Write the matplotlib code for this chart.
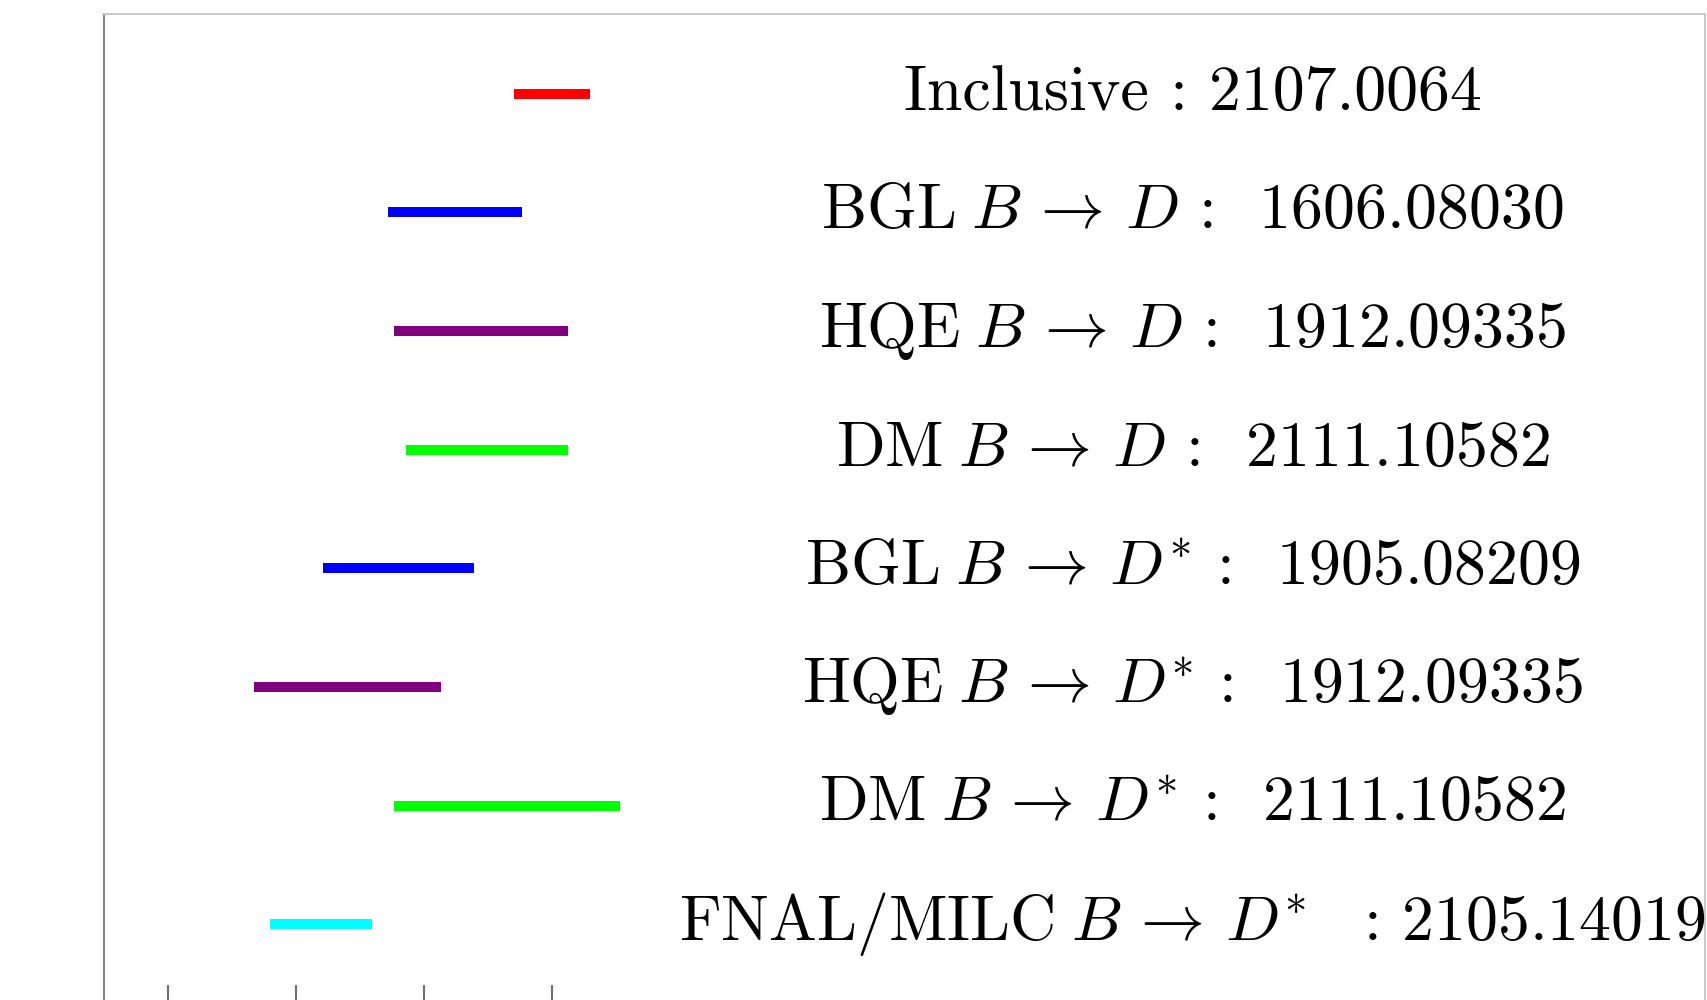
#!/usr/bin/env python
# coding: utf-8
"""
|Vcb| determinations, one horizontal bar per extraction with its arXiv reference.
"""

import matplotlib
matplotlib.use('Agg')
import matplotlib.pyplot as plt


# pylint: disable=invalid-name

labels = [
    r'Inclusive : 2107.0064',
    r'$\mathrm{BGL}\;B\,\rightarrow\,D\,:\;\;1606.08030$',
    r'$\mathrm{HQE}\;B\,\rightarrow\,D\,:\;\;1912.09335$',
    r'$\mathrm{DM}\;B\,\rightarrow\,D\,:\;\;2111.10582$',
    r'$\mathrm{BGL}\;B\,\rightarrow\,D^{*}\,:\;\;1905.08209$',
    r'$\mathrm{HQE}\;B\,\rightarrow\,D^{*}\,:\;\;1912.09335$',
    r'$\mathrm{DM}\;B\,\rightarrow\,D^{*}\,:\;\;2111.10582$',
    r'$\mathrm{FNAL/MILC}\;B\,\rightarrow\,D^{*}\;\;\,:\,2105.14019$',
]
# |Vcb| x 10^3 intervals (lower, upper)
vcb_low = [41.48, 39.52, 39.61, 39.80, 38.51, 37.42, 39.61, 37.67]
vcb_high = [42.51, 41.45, 42.17, 42.18, 40.70, 40.19, 42.98, 39.12]
colors = ['red', 'blue', 'purple', 'lime', 'blue', 'purple', 'lime', 'cyan']

xticks = [36, 38, 40, 42]
label_x = 52


def main():
    plt.rcParams['font.family'] = ['cmr10', 'DejaVu Serif']
    plt.rcParams['mathtext.fontset'] = 'cm'
    plt.rcParams['axes.formatter.use_mathtext'] = True

    W, H = 1707, 1000
    fig = plt.figure(figsize=(W/100, H/100), dpi=100)
    ax = fig.add_axes([103.5/W, -4.0/H, (1705 - 103.5)/W, 990.0/H])

    n = len(labels)
    for i in range(n):
        y = n - i
        # default projecting caps: bar ends stick out by half the line width
        ax.plot([vcb_low[i], vcb_high[i]], [y, y], color=colors[i], lw=7.2)
        ax.text(label_x, y, labels[i], ha='center', va='center', fontsize=46)
    # end for

    ax.set_xlim(35, 60)
    ax.set_ylim(1 - 0.67, n + 0.67)
    ax.set_xticks(xticks)
    ax.set_yticks([])
    # tick labels sit below the visible part of the figure
    ax.tick_params(axis='x', direction='in', length=14, width=1.5, colors='#707070',
                   labelbottom=False)

    for side in ['left', 'bottom']:
        ax.spines[side].set_color('#808080')
        ax.spines[side].set_linewidth(1.4)
    for side in ['top', 'right']:
        ax.spines[side].set_color('#c8c8c8')
        ax.spines[side].set_linewidth(1.4)
    # end for

    fig.savefig('out.png', dpi=100)
# end func


if __name__ == "__main__":
    main()
# end if
